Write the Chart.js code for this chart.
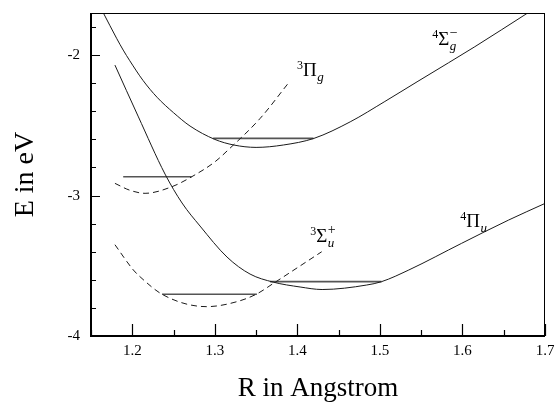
<!DOCTYPE html>
<html>
<head>
<meta charset="utf-8">
<script src="https://cdn.jsdelivr.net/npm/chart.js@4/dist/chart.umd.min.js"></script>
<style>
body { margin: 0; background: #fff; }
#wrap { width: 555px; height: 403px; }
</style>
</head>
<body>
<div id="wrap"><canvas id="pec" width="555" height="403"></canvas></div>
<script>

// Potential curves, R in Angstrom / E in eV

let sigmaG4R = [1.165, 1.181, 1.189, 1.197, 1.213, 1.230, 1.250, 1.270, 1.300, 1.323, 1.350, 1.383, 1.420, 1.464, 1.506, 1.545, 1.583, 1.615, 1.679]
let sigmaG4E = [-1.70, -1.88, -1.964, -2.04, -2.18, -2.30, -2.41, -2.505, -2.60, -2.64, -2.657, -2.64, -2.593, -2.475, -2.33, -2.19, -2.055, -1.94, -1.70]

let piG3R = [1.179, 1.197, 1.2155, 1.248, 1.272, 1.3003, 1.316, 1.355, 1.389]
let piG3E = [-2.913, -2.962, -2.984, -2.937, -2.866, -2.759, -2.676, -2.45, -2.20]

let piU4R = [1.179, 1.207, 1.2397, 1.2603, 1.2821, 1.3148, 1.3427, 1.3706, 1.4033, 1.430, 1.484, 1.502, 1.535, 1.599, 1.656, 1.700]
let piU4E = [-2.071, -2.434, -2.847, -3.053, -3.217, -3.438, -3.559, -3.616, -3.651, -3.669, -3.637, -3.613, -3.53, -3.34, -3.174, -3.056]

let sigmaU3R = [1.179, 1.2013, 1.2094, 1.2376, 1.290, 1.3265, 1.351, 1.371, 1.4295]
let sigmaU3E = [-3.35, -3.53, -3.578, -3.708, -3.791, -3.756, -3.70, -3.625, -3.40]

// Vibrational levels: start R, end R, energy
let levelStart = [1.298, 1.189, 1.367, 1.236]
let levelEnd = [1.4196, 1.272, 1.502, 1.351]
let levelE = [-2.593, -2.866, -3.613, -3.703]

// Axes
let xTicks = [1.2, 1.3, 1.4, 1.5, 1.6, 1.7]
let yTicks = [-4, -3, -2]

// State labels: superscript, letter, subscript, upper mark
let stateSup = ["4", "3", "3", "4"]
let stateMain = ["\u03A3", "\u03A0", "\u03A3", "\u03A0"]
let stateSub = ["g", "g", "u", "u"]
let stateMark = ["\u2212", "", "+", ""]
let stateR = [1.5633, 1.3997, 1.4155, 1.5973]
let stateE = [-1.929, -2.149, -3.331, -3.224]


function toPoints(rs, es){
	return rs.map((r, i) => ({x: r, y: es[i]}))
}

function curve(rs, es, dashed){
	return {
		data: toPoints(rs, es),
		showLine: true,
		borderColor: "#1a1a1a",
		borderWidth: 1,
		borderDash: dashed ? [6, 4] : [],
		pointRadius: 0,
		cubicInterpolationMode: "monotone",
		fill: false
	}
}

let datasets = [
	curve(sigmaG4R, sigmaG4E, false),
	curve(piG3R, piG3E, true),
	curve(piU4R, piU4E, false),
	curve(sigmaU3R, sigmaU3E, true)
]

levelE.forEach((e, i) => {
	datasets.push({
		data: [{x: levelStart[i], y: e}, {x: levelEnd[i], y: e}],
		showLine: true,
		borderColor: "#555",
		borderWidth: 1.6,
		pointRadius: 0,
		fill: false
	})
})


// Frame, inward ticks and state labels
const framePlugin = {
	id: "frame",
	afterDatasetsDraw(chart){
		let ctx = chart.ctx
		let a = chart.chartArea
		let xs = chart.scales.x
		let ys = chart.scales.y
		ctx.save()
		ctx.strokeStyle = "#000"

		ctx.lineWidth = 1
		ctx.beginPath()
		ctx.moveTo(a.left, a.top + 0.5); ctx.lineTo(a.right, a.top + 0.5)
		ctx.moveTo(a.right - 0.5, a.top); ctx.lineTo(a.right - 0.5, a.bottom)
		ctx.stroke()

		ctx.lineWidth = 2
		ctx.beginPath()
		ctx.moveTo(a.left, a.bottom); ctx.lineTo(a.right, a.bottom)
		ctx.moveTo(a.left, a.top); ctx.lineTo(a.left, a.bottom + 1)
		ctx.stroke()

		// x ticks every 0.05, long at labelled values
		ctx.lineWidth = 1.2
		ctx.beginPath()
		xTicks.forEach(v => {
			let px = Math.round(xs.getPixelForValue(v)) + 0.5
			ctx.moveTo(px, a.bottom); ctx.lineTo(px, a.bottom - 12)
			let pm = Math.round(xs.getPixelForValue(v - 0.05)) + 0.5
			ctx.moveTo(pm, a.bottom); ctx.lineTo(pm, a.bottom - 6)
		})
		// y ticks every 0.2, long at labelled values
		for(let k = 0; k <= 11; k++){
			let v = -4 + k * 0.2
			let py = Math.round(ys.getPixelForValue(v)) + 0.5
			let len = (k % 5 === 0) ? 9 : 5
			ctx.moveTo(a.left, py); ctx.lineTo(a.left + len, py)
		}
		ctx.stroke()

		// state labels
		ctx.fillStyle = "#000"
		ctx.textBaseline = "alphabetic"
		ctx.textAlign = "left"
		stateMain.forEach((m, i) => {
			let x = xs.getPixelForValue(stateR[i])
			let y = ys.getPixelForValue(stateE[i])
			ctx.font = "12px 'Liberation Serif'"
			ctx.fillText(stateSup[i], x, y - 7)
			x += ctx.measureText(stateSup[i]).width
			ctx.font = "19px 'Liberation Serif'"
			ctx.fillText(m, x, y)
			x += ctx.measureText(m).width + 0.5
			ctx.font = "italic 13px 'Liberation Serif'"
			ctx.fillText(stateSub[i], x, y + 5)
			if(stateMark[i]){
				ctx.font = "14px 'Liberation Serif'"
				ctx.fillText(stateMark[i], x, y - 8)
			}
		})
		ctx.restore()
	}
}

// fixed axis boxes, no extra room for overhanging labels
function fixBox(s, size){
	if(s.isHorizontal()) s.height = size
	else s.width = size
	s.paddingTop = 0
	s.paddingBottom = 0
	s.paddingLeft = 0
	s.paddingRight = 0
}


let serif = "'Liberation Serif', 'Times New Roman', serif"

new Chart(document.getElementById("pec").getContext("2d"), {
	type: "scatter",
	data: { datasets: datasets },
	options: {
		responsive: false,
		animation: false,
		layout: { padding: { top: 13, right: 10, left: 0, bottom: 0 } },
		plugins: {
			legend: { display: false },
			tooltip: { enabled: false }
		},
		scales: {
			x: {
				type: "linear",
				min: 1.15,
				max: 1.7,
				grid: { display: false, drawTicks: false },
				border: { display: false },
				afterBuildTicks: s => { s.ticks = xTicks.map(v => ({value: v})) },
				afterFit: s => fixBox(s, 67),
				ticks: {
					padding: 6,
					color: "#000",
					font: { family: serif, size: 15 },
					callback: v => Number(v).toFixed(1)
				},
				title: {
					display: true,
					text: "R in Angstrom",
					color: "#000",
					font: { family: serif, size: 27 },
					padding: { top: 0, bottom: -2 }
				}
			},
			y: {
				type: "linear",
				min: -4,
				max: -1.7,
				grid: { display: false, drawTicks: false },
				border: { display: false },
				afterBuildTicks: s => { s.ticks = yTicks.map(v => ({value: v})) },
				afterFit: s => fixBox(s, 91),
				ticks: {
					padding: 11,
					color: "#000",
					font: { family: serif, size: 15 },
					callback: v => String(v)
				},
				title: {
					display: true,
					text: "E in eV",
					color: "#000",
					font: { family: serif, size: 28 },
					padding: { top: 9, bottom: 0 }
				}
			}
		}
	},
	plugins: [framePlugin]
})

</script>
</body>
</html>
